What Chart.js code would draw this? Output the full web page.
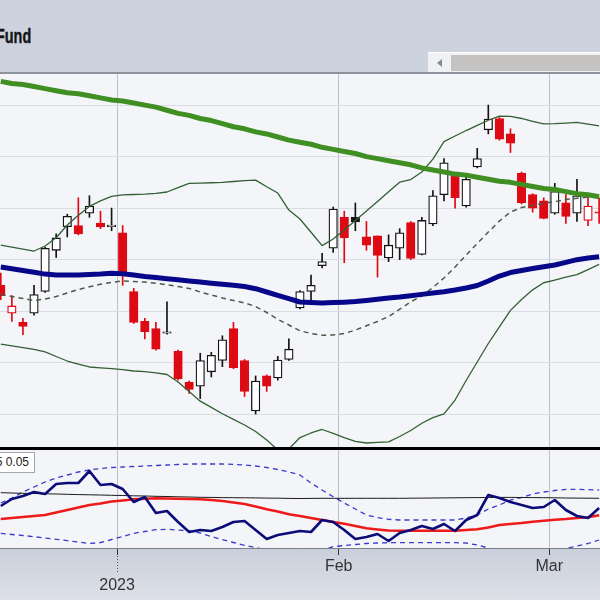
<!DOCTYPE html>
<html>
<head>
<meta charset="utf-8">
<script src="https://cdn.jsdelivr.net/npm/chart.js@4.4.1/dist/chart.umd.min.js"></script>
<style>
  html, body { margin: 0; padding: 0; }
  body { width: 600px; height: 600px; position: relative; overflow: hidden; background: #cdd3de; font-family: "Liberation Sans", Arial, sans-serif; }
  .title { position: absolute; left: -4px; top: 26px; font: bold 20px/20px "Liberation Sans", Arial, sans-serif; color: #151515; white-space: nowrap; transform: scaleX(0.72); transform-origin: 0 0; -webkit-text-stroke: 0.4px #151515; }
  .scroll { position: absolute; left: 428px; top: 52px; width: 172px; height: 21px; background: #eff1f4; border-top: 1px solid #fff; box-sizing: border-box; }
  .scroll .arrow { position: absolute; left: 9px; top: 6px; width: 0; height: 0; border-top: 4px solid transparent; border-bottom: 4px solid transparent; border-right: 5px solid #8a8a8a; }
  .scroll .thumb { position: absolute; left: 23px; right: 0; top: 2px; height: 16px; background: #c4c3c2; }
  .topline { position: absolute; left: 0; top: 72px; width: 600px; height: 2px; background: #8d929b; }
  #main { position: absolute; left: 0; top: 74px; background: #f4f5f8; }
  .sep { position: absolute; left: 0; top: 447px; width: 600px; height: 3px; background: #000; }
  .lowerbg { position: absolute; left: 0; top: 450px; width: 600px; height: 98px; background: #f4f5f8; }
  .axisbg { position: absolute; left: 0; top: 548px; width: 600px; height: 52px; background: linear-gradient(#c9cfdb, #dde0e7); }
  #lower { position: absolute; left: 0; top: 450px; }
  .tag { position: absolute; right: 565px; top: 452px; height: 19px; line-height: 19px; padding: 0 5px 0 20px; background: #fff; border: 1px solid #a3a6ab; font-size: 12px; color: #222; white-space: nowrap; }
</style>
</head>
<body>
<div class="title">Fund</div>
<div class="scroll"><div class="arrow"></div><div class="thumb"></div></div>
<div class="topline"></div>
<canvas id="main" width="600" height="373"></canvas>
<div class="sep"></div>
<div class="lowerbg"></div>
<div class="axisbg"></div>
<canvas id="lower" width="600" height="150"></canvas>
<div class="tag">5 0.05</div>

<script>
// trading days shown
const dates = [
  '2022-12-15', '2022-12-16', '2022-12-19', '2022-12-20', '2022-12-21', '2022-12-22', '2022-12-23',
  '2022-12-27', '2022-12-28', '2022-12-29', '2022-12-30',
  '2023-01-03', '2023-01-04', '2023-01-05', '2023-01-06', '2023-01-09', '2023-01-10', '2023-01-11',
  '2023-01-12', '2023-01-13', '2023-01-17', '2023-01-18', '2023-01-19', '2023-01-20', '2023-01-23',
  '2023-01-24', '2023-01-25', '2023-01-26', '2023-01-27', '2023-01-30', '2023-01-31',
  '2023-02-01', '2023-02-02', '2023-02-03', '2023-02-06', '2023-02-07', '2023-02-08', '2023-02-09',
  '2023-02-10', '2023-02-13', '2023-02-14', '2023-02-15', '2023-02-16', '2023-02-17', '2023-02-21',
  '2023-02-22', '2023-02-23', '2023-02-24', '2023-02-27', '2023-02-28',
  '2023-03-01', '2023-03-02', '2023-03-03', '2023-03-06', '2023-03-07'
];

const opens = [
  22.5, 19.8, 18.9, 19.8, 21.9, 25.9, 28.2, 28.3, 29.5, 28.55, 28.2,
  27.6, 21.9, 19.0, 18.3, 17.85, 16.1, 13.1, 12.7, 14.1, 15.2,
  18.3, 15.2, 10.3, 13.7, 13.5, 15.3, 20.3, 21.9, 24.4, 26.1,
  29.1, 29.1, 27.2, 27.3, 25.15, 26.1, 28.6, 25.5, 28.45, 31.3,
  33.1, 30.2, 34.0, 37.6, 38.7, 37.2, 33.4, 31.3, 30.7, 29.5,
  30.5, 29.5, 28.8, 29.6
];
const highs = [
  23.7, 21.5, 19.3, 22.5, 26.2, 27.5, 29.4, 31.0, 31.2, 29.7, 30.0,
  28.3, 22.2, 19.3, 18.9, 20.9, 16.2, 13.2, 15.9, 16.0, 17.6,
  18.9, 15.3, 13.7, 13.8, 15.6, 17.3, 22.0, 23.5, 25.6, 30.1,
  29.7, 30.5, 28.7, 27.3, 27.4, 28.0, 28.7, 29.1, 31.7, 34.8,
  33.2, 33.0, 35.8, 40.0, 38.8, 37.7, 33.5, 31.4, 31.0, 32.4,
  31.3, 32.8, 31.2, 31.0
];
const lows = [
  21.1, 19.0, 17.7, 19.6, 21.8, 25.2, 27.2, 27.4, 29.1, 28.0, 27.8,
  22.5, 18.8, 17.3, 16.2, 17.75, 13.3, 12.0, 11.5, 13.6, 14.6,
  14.4, 11.7, 10.0, 12.2, 13.3, 15.2, 20.2, 20.7, 24.2, 25.7,
  24.7, 27.8, 25.9, 23.3, 24.8, 25.0, 25.0, 25.45, 28.3, 30.7,
  30.0, 30.1, 33.9, 37.2, 36.6, 35.4, 30.4, 29.6, 28.95, 29.4,
  28.5, 28.7, 28.3, 28.5
];
const closes = [
  21.5, 20.5, 18.5, 21.6, 26.1, 27.1, 29.2, 27.5, 30.2, 28.16, 28.26,
  23.8, 18.9, 18.0, 16.3, 17.9, 13.4, 12.4, 15.2, 15.7, 17.2,
  14.5, 12.2, 13.2, 12.7, 15.25, 16.3, 21.9, 22.5, 24.8, 29.9,
  27.1, 28.65, 26.4, 25.4, 26.4, 27.6, 25.1, 28.8, 31.2, 34.4,
  31.0, 32.8, 34.8, 38.65, 36.7, 36.3, 30.5, 30.0, 29.0, 31.6,
  29.2, 31.2, 30.2, 29.5
];

// price overlays
const ma200 = [
  42.3, 42.1, 42.0, 41.8, 41.6, 41.4, 41.2, 41.1, 40.9, 40.7, 40.5,
  40.4, 40.2, 40.0, 39.8, 39.5, 39.2, 39.0, 38.7, 38.5, 38.2,
  37.9, 37.7, 37.4, 37.2, 36.9, 36.6, 36.4, 36.2, 35.9, 35.7,
  35.5, 35.3, 35.0, 34.8, 34.6, 34.4, 34.2, 33.9, 33.7, 33.5,
  33.3, 33.2, 33.0, 32.8, 32.6, 32.5, 32.3, 32.1, 31.9, 31.8,
  31.6, 31.4, 31.3, 31.1
];
const ma50 = [
  24.27, 24.10, 23.94, 23.77, 23.59, 23.50, 23.50, 23.51, 23.56, 23.60, 23.67,
  23.63, 23.50, 23.35, 23.25, 23.14, 23.03, 22.93, 22.82, 22.71, 22.61,
  22.50, 22.38, 22.17, 21.85, 21.52, 21.20, 20.88, 20.82, 20.78, 20.82,
  20.86, 20.92, 21.03, 21.15, 21.26, 21.36, 21.49, 21.62, 21.75, 21.88,
  22.04, 22.24, 22.48, 22.92, 23.40, 23.74, 23.94, 24.13, 24.30, 24.47,
  24.73, 24.99, 25.15, 25.27
];
const bbUpper = [
  26.40, 26.21, 26.02, 25.83, 26.32, 27.12, 28.36, 29.30, 30.16, 30.70, 31.13,
  31.29, 31.32, 31.36, 31.43, 31.56, 31.99, 32.40, 32.43, 32.46, 32.50,
  32.58, 32.66, 32.72, 32.07, 31.46, 29.81, 28.94, 27.65, 26.35, 27.00,
  27.87, 28.79, 29.71, 30.65, 31.59, 32.51, 32.77, 33.50, 34.76, 36.46,
  37.00, 37.53, 38.03, 38.53, 38.92, 38.90, 38.70, 38.43, 38.18, 38.20,
  38.25, 38.32, 38.15, 37.98
];
const bbMiddle = [
  21.64, 21.41, 21.22, 21.03, 21.17, 21.41, 21.75, 22.09, 22.36, 22.60, 22.79,
  22.92, 22.87, 22.82, 22.70, 22.55, 22.38, 22.20, 21.85, 21.56, 21.27,
  21.03, 20.79, 20.44, 19.86, 19.20, 18.65, 18.09, 17.82, 17.65, 17.67,
  17.82, 18.16, 18.57, 18.99, 19.47, 20.18, 20.90, 21.46, 22.29, 23.21,
  24.28, 25.44, 26.56, 27.67, 28.74, 29.62, 30.05, 30.27, 30.46, 30.63,
  30.83, 30.95, 31.07, 31.22
];
const bbLower = [
  16.79, 16.63, 16.46, 16.27, 16.03, 15.59, 15.15, 14.85, 14.57, 14.49, 14.41,
  14.32, 14.18, 14.11, 13.99, 13.84, 13.11, 12.20, 11.25, 10.65, 10.03,
  9.49, 8.94, 8.31, 7.48, 6.51, 6.61, 7.72, 8.16, 8.50, 8.13,
  7.72, 7.35, 7.19, 7.24, 7.29, 7.82, 8.40, 9.11, 9.66, 10.01,
  11.36, 13.26, 15.05, 16.85, 18.47, 20.07, 21.13, 22.06, 22.75, 23.01,
  23.29, 23.53, 24.03, 24.54
];

// lower indicator panel
const osc = [
  0.42, 0.49, 0.52, 0.56, 0.54, 0.64, 0.65, 0.65, 0.77, 0.63, 0.64,
  0.59, 0.46, 0.51, 0.35, 0.37, 0.26, 0.16, 0.18, 0.17, 0.21,
  0.26, 0.27, 0.18, 0.09, 0.13, 0.15, 0.17, 0.16, 0.28, 0.26,
  0.18, 0.09, 0.11, 0.14, 0.07, 0.15, 0.18, 0.22, 0.19, 0.24,
  0.17, 0.28, 0.33, 0.53, 0.50, 0.46, 0.43, 0.40, 0.41, 0.48,
  0.38, 0.32, 0.30, 0.40
];
const oscSignal = [
  0.29, 0.30, 0.31, 0.32, 0.33, 0.355, 0.38, 0.405, 0.43, 0.445, 0.465,
  0.475, 0.487, 0.492, 0.497, 0.495, 0.493, 0.49, 0.487, 0.48, 0.47,
  0.455, 0.44, 0.415, 0.387, 0.365, 0.337, 0.32, 0.30, 0.28, 0.26,
  0.242, 0.22, 0.197, 0.185, 0.175, 0.173, 0.173, 0.173, 0.173, 0.173,
  0.173, 0.18, 0.187, 0.205, 0.23, 0.24, 0.25, 0.263, 0.273, 0.283,
  0.29, 0.30, 0.307, 0.327
];
const oscLevel = [
  0.553, 0.55, 0.547, 0.545, 0.542, 0.54, 0.537, 0.534, 0.532, 0.53, 0.527,
  0.525, 0.522, 0.52, 0.517, 0.515, 0.512, 0.51, 0.507, 0.506, 0.504,
  0.503, 0.502, 0.501, 0.499, 0.498, 0.496, 0.495, 0.496, 0.497, 0.497,
  0.497, 0.497, 0.497, 0.497, 0.497, 0.497, 0.498, 0.499, 0.5, 0.501,
  0.502, 0.503, 0.504, 0.505, 0.506, 0.506, 0.505, 0.504, 0.503, 0.502,
  0.5, 0.499, 0.498, 0.497
];
const oscUpper = [
  0.45, 0.50, 0.56, 0.61, 0.66, 0.70, 0.73, 0.76, 0.78, 0.795, 0.805,
  0.81, 0.815, 0.82, 0.825, 0.83, 0.835, 0.84, 0.84, 0.84, 0.84,
  0.837, 0.83, 0.82, 0.805, 0.785, 0.76, 0.73, 0.65, 0.58, 0.513,
  0.45, 0.39, 0.33, 0.305, 0.287, 0.28, 0.28, 0.28, 0.28, 0.28,
  0.28, 0.30, 0.33, 0.39, 0.43, 0.48, 0.505, 0.54, 0.56, 0.575,
  0.587, 0.587, 0.583, 0.58
];
const oscLower = [
  0.147, 0.135, 0.125, 0.113, 0.10, 0.087, 0.073, 0.06, 0.045, 0.055, 0.085,
  0.115, 0.147, 0.165, 0.183, 0.187, 0.18, 0.173, 0.15, 0.115, 0.083,
  0.055, 0.027, 0.005, -0.02, -0.04, -0.05, -0.05, -0.04, -0.02, 0.013,
  0.025, 0.035, 0.045, 0.05, 0.053, 0.053, 0.053, 0.053, 0.053, 0.053,
  0.053, 0.05, 0.03, 0.0, -0.03, -0.05, -0.07, -0.08, -0.07, -0.04,
  -0.005, 0.02, 0.045, 0.08
];

const priceGrid = [10, 15, 20, 25, 30, 35, 40];
const tickLabels = ['2023', 'Feb', 'Mar'];
const tickDates = ['2023-01-03', '2023-02-01', '2023-03-01'];

const RED = '#dd0a14';
const BLACK = '#141414';

// one gridline half a bar before the first session of each month
const monthIdx = tickDates.map(d => dates.indexOf(d));
const monthTicks = axis => { axis.ticks = monthIdx.map(k => ({ value: k - 0.5 })); };
const isYear = s => /^\d{4}$/.test(s);

const xMin = -0.07, xMax = 54.08;

const candleColor = closes.map((c, k) => (k === 0 ? c < opens[k] : c < closes[k - 1]) ? RED : BLACK);
const bodyFill = closes.map((c, k) => c >= opens[k] ? '#ffffff' : candleColor[k]);

const xy = arr => arr.map((v, k) => ({ x: k, y: v }));
const line = (data, color, width, extra) => Object.assign({
  type: 'line', data: xy(data), borderColor: color, borderWidth: width,
  pointRadius: 0, fill: false, tension: 0, clip: 0, borderJoinStyle: 'round'
}, extra || {});

new Chart(document.getElementById('main'), {
  type: 'bar',
  data: {
    datasets: [
      {
        label: 'range', data: dates.map((d, k) => ({ x: k, y: [lows[k], highs[k]] })),
        backgroundColor: candleColor, barThickness: 1, grouped: false, order: 10
      },
      {
        label: 'body', data: dates.map((d, k) => ({ x: k, y: [opens[k], closes[k]] })),
        backgroundColor: bodyFill, borderColor: candleColor, borderWidth: 1.3,
        borderSkipped: false, barThickness: 8.5, minBarLength: 1.5, grouped: false, order: 9
      },
      line(bbUpper, '#335f35', 1.3, { order: 5 }),
      line(bbLower, '#335f35', 1.3, { order: 5 }),
      line(bbMiddle, '#4b5a4b', 1.5, { order: 5, borderDash: [5, 4] }),
      line(ma50, '#07078a', 5, { order: 2 }),
      line(ma200, '#3f8f22', 5, { order: 1 })
    ]
  },
  options: {
    responsive: false,
    animation: false,
    layout: { padding: 0 },
    plugins: { legend: { display: false }, tooltip: { enabled: false } },
    scales: {
      x: {
        type: 'linear', min: xMin, max: xMax, offset: false,
        afterBuildTicks: monthTicks,
        grid: { color: '#bcc0c8', drawTicks: false, offset: false },
        border: { display: false },
        ticks: { display: false }
      },
      y: {
        min: 6.80, max: 43.02,
        afterBuildTicks: axis => { axis.ticks = priceGrid.map(v => ({ value: v })); },
        grid: { color: '#d9dce2', drawTicks: false },
        border: { display: false },
        ticks: { display: false }
      }
    }
  }
});

const yearTick = {
  id: 'yearTick',
  afterDraw(chart) {
    const xs = chart.scales.x;
    const ctx = chart.ctx;
    ctx.save();
    ctx.strokeStyle = '#555';
    ctx.lineWidth = 1;
    ctx.setLineDash([1, 2]);
    xs.ticks.forEach((t, i) => {
      if (!isYear(tickLabels[i])) return;
      const px = Math.round(xs.getPixelForValue(t.value)) + 0.5;
      ctx.beginPath();
      ctx.moveTo(px, xs.top + 8);
      ctx.lineTo(px, xs.top + 25);
      ctx.stroke();
    });
    ctx.restore();
  }
};

new Chart(document.getElementById('lower'), {
  type: 'line',
  data: {
    datasets: [
      line(oscUpper, '#3a3acc', 1.3, { borderDash: [5, 4], order: 5 }),
      line(oscLower, '#3a3acc', 1.3, { borderDash: [5, 4], order: 5 }),
      line(oscLevel, '#1a1a1a', 1, { order: 4 }),
      line(oscSignal, '#ee1a1a', 2.6, { order: 3 }),
      line(osc, '#0c0c78', 2.6, { order: 2 })
    ]
  },
  plugins: [yearTick],
  options: {
    responsive: false,
    animation: false,
    layout: { padding: 0 },
    plugins: { legend: { display: false }, tooltip: { enabled: false } },
    scales: {
      x: {
        type: 'linear', min: xMin, max: xMax,
        afterBuildTicks: monthTicks,
        afterFit: axis => { axis.height = 52; },
        grid: { color: '#bcc0c8', tickColor: '#333', tickLength: 7 },
        border: { display: true, color: '#7a7f88', width: 1 },
        ticks: {
          autoSkip: false, maxRotation: 0, padding: 2, color: '#333',
          font: { size: 16, family: '"Liberation Sans", Arial, sans-serif' },
          callback: (v, i) => isYear(tickLabels[i]) ? ['', tickLabels[i]] : tickLabels[i]
        }
      },
      y: { display: false, min: 0, max: 0.98 }
    }
  }
});
</script>
</body>
</html>
